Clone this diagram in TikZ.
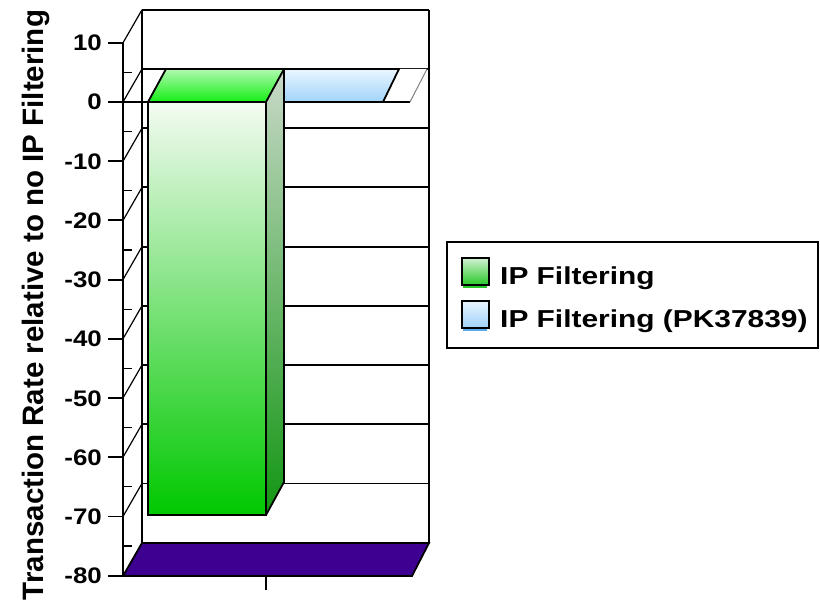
\documentclass[tikz,border=0pt]{standalone}
\usepackage{fontspec}
\setmainfont{Liberation Sans}
\begin{document}
\begin{tikzpicture}[x=1pt,y=-1pt,
  edge/.style={draw=black,line width=1.8pt,line join=miter},
  thin edge/.style={draw=black,line width=1.2pt},
  ticklabel/.style={anchor=base east,inner sep=0pt,font=\fontsize{22.5}{24}\selectfont\bfseries},
  legendtext/.style={anchor=base west,inner sep=0pt,font=\fontsize{24.5}{26}\selectfont\bfseries}]
\definecolor{floorpurple}{RGB}{61,0,145}
\definecolor{frontlight}{RGB}{244,251,242}
\definecolor{frontgreen}{RGB}{0,200,0}
\definecolor{sidelight}{RGB}{201,217,201}
\definecolor{sidegreen}{RGB}{18,150,18}
\definecolor{toplight}{RGB}{176,250,176}
\definecolor{topgreen}{RGB}{20,238,20}
\definecolor{bluelight}{RGB}{234,245,255}
\definecolor{bluedark}{RGB}{160,212,250}
\definecolor{swgl}{RGB}{210,242,210}
\definecolor{swgd}{RGB}{40,200,40}
\definecolor{swbl}{RGB}{232,244,255}
\definecolor{swbd}{RGB}{160,210,250}
\definecolor{swbline}{RGB}{90,170,240}
\useasboundingbox (0,0) rectangle (820,607);
\fill[white] (0,0) rectangle (820,607);

% back wall grid lines (one per major value) and its edges
\foreach \v in {10,0,-10,-20,-30,-40,-50,-60,-70} {
  \pgfmathsetmacro{\yb}{102-5.92*\v-33}
  \draw[edge] (142,\yb) -- (429,\yb);
}
\draw[edge] (142,10) -- (142,543);
\draw[edge] (429,10) -- (429,543);

% side wall diagonals
\foreach \v in {10,0,-10,-20,-30,-40,-50,-60,-70} {
  \pgfmathsetmacro{\yf}{102-5.92*\v}
  \draw[thin edge] (123,\yf) -- (142,\yf-33);
}

% floor
\filldraw[fill=floorpurple,edge] (123,576) -- (412,576) -- (429,543) -- (142,543) -- cycle;

% zero plane: empty right part
\fill[white] (383,102) -- (410,102) -- (427,69) -- (399,69) -- cycle;
\draw[thin edge] (383,102) -- (410,102);
\draw[gray,line width=1pt] (410,102) -- (427,69);

% second series: zero height, only its top face
\shade[top color=bluelight,bottom color=bluedark] (266,102) -- (383,102) -- (399,69) -- (284,69) -- cycle;
\draw[edge] (266,102) -- (383,102) -- (399,69) -- (284,69);

% first series bar
\shade[top color=sidelight,bottom color=sidegreen] (266,102) -- (284,69) -- (284,482) -- (266,515) -- cycle;
\draw[edge] (284,69) -- (284,482) -- (266,515);
\shade[top color=frontlight,bottom color=frontgreen] (148,102) rectangle (266,515);
\draw[edge] (148,102) rectangle (266,515);
\shade[top color=toplight,bottom color=topgreen] (148,102) -- (266,102) -- (284,69) -- (166,69) -- cycle;
\draw[edge] (148,102) -- (266,102) -- (284,69) -- (166,69) -- cycle;

% front zero line
\draw[edge] (123,102) -- (148,102);

% value axis with ticks and labels
\draw[edge] (123,43) -- (123,576);
\foreach \v in {10,0,-10,-20,-30,-40,-50,-60,-70,-80} {
  \pgfmathsetmacro{\yf}{102-5.92*\v}
  \draw[edge] (108,\yf) -- (123,\yf);
  \node[ticklabel] (t\v) at (102,\yf+8) {\scalebox{1.15}[1]{\v}};
}
\foreach \v in {5,-5,-15,-25,-35,-45,-55,-65,-75} {
  \pgfmathsetmacro{\yf}{102-5.92*\v}
  \draw[thin edge] (123,\yf) -- (132,\yf);
}
\draw[edge] (108,576) -- (123,576);
\draw[edge] (266,576) -- (266,590);

% axis title
\node[rotate=90,anchor=base,inner sep=0pt,font=\fontsize{29.5}{31}\selectfont\bfseries] (ytitle) at (43,305) {Transaction Rate relative to no IP Filtering};

% legend
\draw[line width=1.8pt] (447,242) rectangle (818,348);
\draw[swgd,line width=2pt] (463,287) -- (487,287);
\shade[top color=swgl,bottom color=swgd] (462,258) rectangle (489,285);
\draw[line width=1.5pt] (462,258) rectangle (489,285);
\node[legendtext] (l1) at (500,284) {\scalebox{1.22}[1]{IP Filtering}};
\draw[swbline,line width=2pt] (463,330) -- (487,330);
\shade[top color=swbl,bottom color=swbd] (462,301) rectangle (489,328);
\draw[line width=1.5pt] (462,301) rectangle (489,328);
\node[legendtext] (l2) at (500,327) {\scalebox{1.22}[1]{IP Filtering (PK37839)}};
\end{tikzpicture}
\end{document}
